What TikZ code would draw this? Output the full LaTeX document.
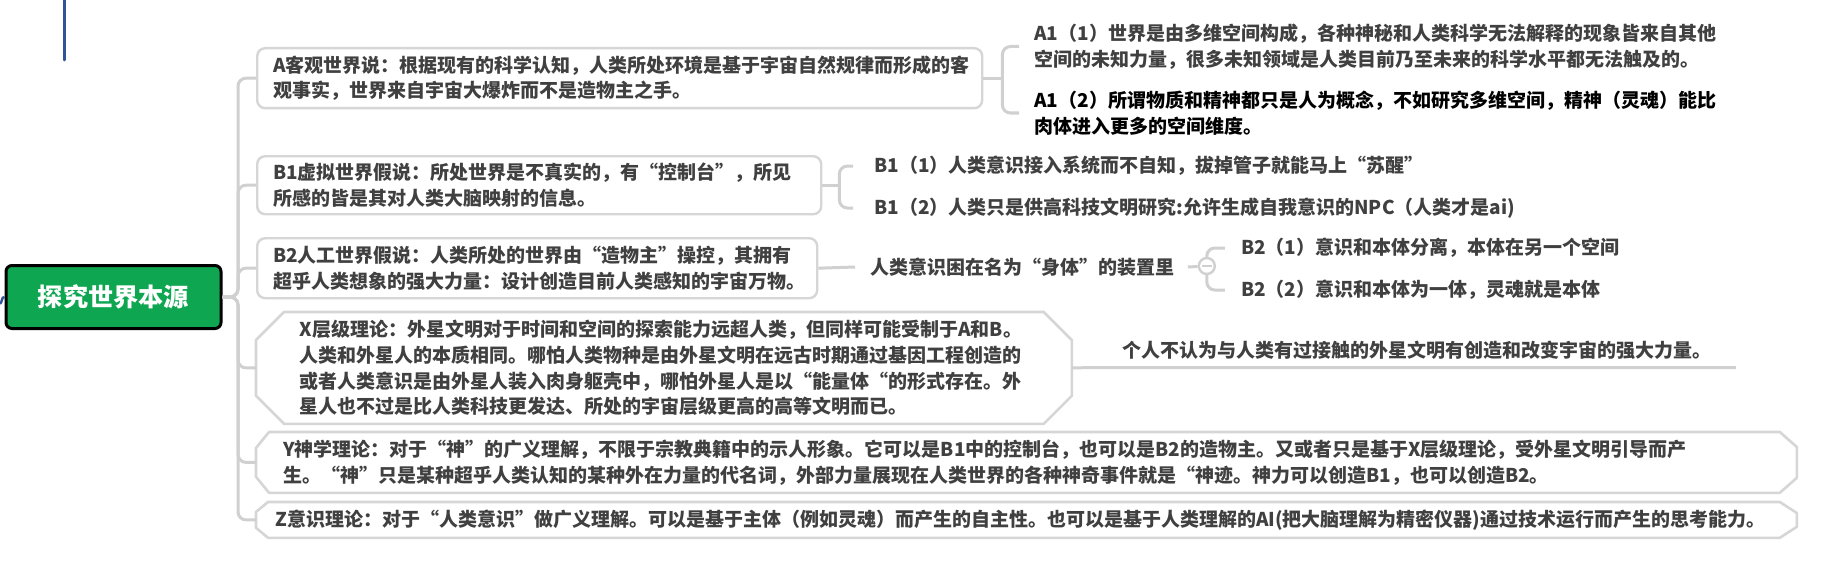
\documentclass[tikz,border=0pt]{standalone}
\usepackage{fontspec}
\newfontfamily\cjk{Noto Sans CJK SC}
\usetikzlibrary{calc}
\definecolor{boxgray}{HTML}{D6D6D6}
\definecolor{linegray}{HTML}{D0D0D0}
\definecolor{txtgray}{HTML}{404040}
\definecolor{rootgreen}{HTML}{0EA650}
\definecolor{topblue}{HTML}{2F5596}
\newcommand\topicfont{\cjk\bfseries\fontsize{9.5}{12.9}\selectfont}
\tikzset{
  rootbox/.style={draw=black,line width=1.5pt,fill=rootgreen,rounded corners=3pt,minimum width=107.5pt,minimum height=31.5pt,inner sep=0pt,text=white,font=\cjk\bfseries\fontsize{12.6}{15}\selectfont},
  topic/.style={draw=boxgray,line width=1.2pt,rounded corners=4pt,fill=white,anchor=north west,align=left,inner xsep=8pt,inner ysep=0pt,font=\topicfont,text=txtgray},
  plate/.style={anchor=north west,align=left,inner ysep=0pt,font=\topicfont,text=txtgray},
  leaf/.style={anchor=west,align=left,inner sep=0pt,font=\topicfont,text=txtgray},
  conn/.style={draw=linegray,line width=1.5pt,rounded corners=4pt},
  rim/.style={draw=boxgray,line width=1.3pt,line join=round},
  knobc/.style={circle,draw=linegray,line width=1.2pt,fill=white,minimum size=8pt,inner sep=0pt,
    path picture={\draw[linegray,line width=1.2pt] ([xshift=-2.6pt]path picture bounding box.center) -- ([xshift=2.6pt]path picture bounding box.center);}},
}
\begin{document}
\begin{tikzpicture}[x=0.5pt,y=-0.5pt]
\path[fill=white] (0,0) rectangle (1823,567);\useasboundingbox (0,0) rectangle (1823,567);
% parent lines coming from outside
\coordinate (upA) at (64,0);\coordinate (upB) at (64,60);\coordinate (inA) at (0,304);
\draw[topblue,line width=1.5pt,line cap=round] (upA) -- (upB);
\node[rootbox] (root) at (113.5,297) {探究世界本源};
\draw[topblue,line width=1.2pt] (inA) to[out=40,in=180] (root.west);
% first level
\node[topic,text width=346.5pt,minimum height=30pt] (a) at (256,47) {A客观世界说：根据现有的科学认知，人类所处环境是基于宇宙自然规律而形成的客\\观事实，世界来自宇宙大爆炸而不是造物主之手。};
\node[topic,text width=266pt,minimum height=29pt] (b1) at (256,155) {B1虚拟世界假说：所处世界是不真实的，有“控制台”，所见\\所感的皆是其对人类大脑映射的信息。};
\node[topic,text width=264pt,minimum height=30pt] (b2) at (256,237) {B2人工世界假说：人类所处的世界由“造物主”操控，其拥有\\超乎人类想象的强大力量：设计创造目前人类感知的宇宙万物。};
\node[plate,text width=364pt,inner xsep=21.75pt,minimum height=55.5pt] (x) at (256,312) {X层级理论：外星文明对于时间和空间的探索能力远超人类，但同样可能受制于A和B。\\人类和外星人的本质相同。哪怕人类物种是由外星文明在远古时期通过基因工程创造的\\或者人类意识是由外星人装入肉身躯壳中，哪怕外星人是以“能量体“的形式存在。外\\星人也不过是比人类科技更发达、所处的宇宙层级更高的高等文明而已。};
\node[plate,text width=743pt,inner xsep=13.5pt,minimum height=30pt] (y) at (256,432) {Y神学理论：对于“神”的广义理解，不限于宗教典籍中的示人形象。它可以是B1中的控制台，也可以是B2的造物主。又或者只是基于X层级理论，受外星文明引导而产\\生。“神”只是某种超乎人类认知的某种外在力量的代名词，外部力量展现在人类世界的各种神奇事件就是“神迹。神力可以创造B1，也可以创造B2。};
\node[plate,text width=751pt,inner xsep=9.5pt,minimum height=17.5pt] (z) at (256,502) {Z意识理论：对于“人类意识”做广义理解。可以是基于主体（例如灵魂）而产生的自主性。也可以是基于人类理解的AI(把大脑理解为精密仪器)通过技术运行而产生的思考能力。};
\draw[rim] ($(x.north west)+(28,0)$) -- ($(x.north east)+(-28,0)$) -- ($(x.north east)+(0,28)$) -- ($(x.south east)+(0,-28)$) -- ($(x.south east)+(-28,0)$) -- ($(x.south west)+(28,0)$) -- ($(x.south west)+(0,-28)$) -- ($(x.north west)+(0,28)$) -- cycle;
\draw[rim] ($(y.north west)+(13,0)$) -- ($(y.north east)+(-17,0)$) -- ($(y.north east)+(0,15)$) -- ($(y.south east)+(0,-15)$) -- ($(y.south east)+(-17,0)$) -- ($(y.south west)+(13,0)$) -- ($(y.south west)+(0,-16)$) -- ($(y.north west)+(0,16)$) -- cycle;
\draw[rim] ($(z.north west)+(12,0)$) -- ($(z.north east)+(-17,0)$) -- ($(z.north east)+(0,11)$) -- ($(z.south east)+(0,-11)$) -- ($(z.south east)+(-17,0)$) -- ($(z.south west)+(12,0)$) -- ($(z.south west)+(0,-10)$) -- ($(z.north west)+(0,10)$) -- cycle;
\coordinate (hub) at (238,297);
\foreach \t in {a,b1,b2,x,y,z} \draw[conn] (root.east) -- (hub) |- (\t.west);
% second level
\node[leaf] (a11) at (1034,46.5) {A1（1）世界是由多维空间构成，各种神秘和人类科学无法解释的现象皆来自其他\\空间的未知力量，很多未知领域是人类目前乃至未来的科学水平都无法触及的。};
\node[leaf,text=black] (a12) at (1034,113) {A1（2）所谓物质和精神都只是人为概念，不如研究多维空间，精神（灵魂）能比\\肉体进入更多的空间维度。};
\draw[conn] (a.east) -- ++(19,0) coordinate (ka);
\draw[conn] ($(a11.west)+(-15,0)$) -| (ka) |- ($(a12.west)+(-15,0)$);
\node[leaf] (b11) at (874,166) {B1（1）人类意识接入系统而不自知，拔掉管子就能马上“苏醒”};
\node[leaf] (b12) at (874,208) {B1（2）人类只是供高科技文明研究:允许生成自我意识的NPC（人类才是ai)};
\draw[conn] (b1.east) -- ++(17,0) coordinate (kb1);
\draw[conn] ($(b11.west)+(-21,0)$) -| (kb1) |- ($(b12.west)+(-21,0)$);
\node[leaf] (b2m) at (870,267) {人类意识困在名为“身体”的装置里};
\draw[conn] (b2.east) -- ($(b2m.west)+(-15,0)$);
\coordinate (knob) at ($(b2m.east)+(32,-1)$);
\node[leaf] (b21) at ($(knob)+(34,-18)$) {B2（1）意识和本体分离，本体在另一个空间};
\node[leaf] (b22) at ($(knob)+(34,24)$) {B2（2）意识和本体为一体，灵魂就是本体};
\draw[conn] ($(b21.west)+(-16,0)$) -| (knob) |- ($(b22.west)+(-16,0)$);
\node[knobc] (kn) at (knob) {};
\draw[conn] ($(b2m.east)+(13,0)$) -- (kn);
\node[leaf,anchor=south west,inner xsep=12pt,inner ysep=4pt] (xr) at (1098,367.5) {个人不认为与人类有过接触的外星文明有创造和改变宇宙的强大力量。};
\draw[conn] (x.east) -- (xr.south west) -- (xr.south east);
\end{tikzpicture}
\end{document}
